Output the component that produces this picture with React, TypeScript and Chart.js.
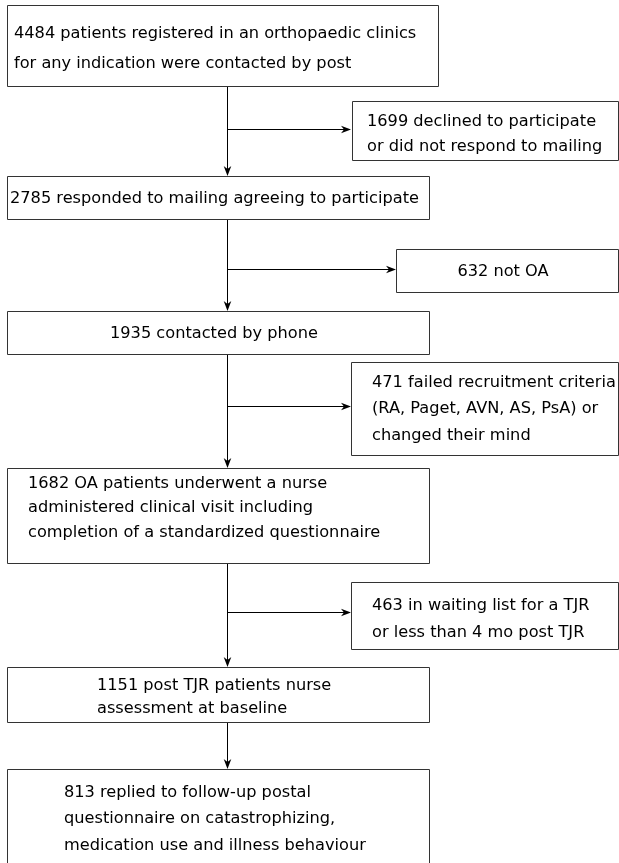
import React, { useEffect, useRef } from "react";
import { Chart, registerables } from "chart.js";

Chart.register(...registerables);

// ---- Data: counts and their descriptions ----
const counts = [4484, 1699, 2785, 632, 1935, 471, 1682, 463, 1151, 813];
const descriptions = [
  ["patients registered in an orthopaedic clinics", "for any indication were contacted by post"],
  ["declined to participate", "or did not respond to mailing"],
  ["responded to mailing agreeing to participate"],
  ["not OA"],
  ["contacted by phone"],
  ["failed recruitment criteria", "(RA, Paget, AVN, AS, PsA) or", "changed their mind"],
  ["OA patients underwent a nurse", "administered clinical visit including", "completion of a standardized questionnaire"],
  ["in waiting list for a TJR", "or less than 4 mo post TJR"],
  ["post TJR patients nurse", "assessment at baseline"],
  ["replied to follow-up postal", "questionnaire on catastrophizing,", "medication use and illness behaviour"],
];

// ---- Layout (scale units) ----
const W = 619;
const H = 863;
type BoxLayout = { x0: number; y0: number; x1: number; y1: number; tx: number; ys: number[]; center?: boolean; noBottom?: boolean };
const boxLayout: BoxLayout[] = [
  { x0: 7, y0: 5, x1: 438, y1: 86, tx: 14, ys: [34, 64] },
  { x0: 352, y0: 101, x1: 618, y1: 160, tx: 367, ys: [122, 147] },
  { x0: 7, y0: 176, x1: 429, y1: 219, tx: 10, ys: [199] },
  { x0: 396, y0: 249, x1: 618, y1: 292, tx: 503, ys: [272], center: true },
  { x0: 7, y0: 311, x1: 429, y1: 354, tx: 214, ys: [334], center: true },
  { x0: 351, y0: 362, x1: 618, y1: 455, tx: 372, ys: [383, 409, 436] },
  { x0: 7, y0: 468, x1: 429, y1: 563, tx: 28, ys: [484, 508, 533] },
  { x0: 351, y0: 582, x1: 618, y1: 649, tx: 372, ys: [606, 633] },
  { x0: 7, y0: 667, x1: 429, y1: 722, tx: 97, ys: [686, 709] },
  { x0: 7, y0: 769, x1: 429, y1: 900, tx: 64, ys: [793, 819, 846], noBottom: true },
];

const spineX = 227;
// vertical connectors: [fromY, toY]
const verticals: [number, number][] = [
  [86, 176],
  [219, 311],
  [354, 468],
  [563, 667],
  [722, 769],
];
// horizontal branches: [y, toX]
const branches: [number, number][] = [
  [129, 351],
  [269, 396],
  [406, 351],
  [612, 351],
];

const FONT = "16.2px Tahoma, 'DejaVu Sans', sans-serif";

const flowPlugin = {
  id: "flowBoxes",
  afterDatasetsDraw(chart: any) {
    const ctx = chart.ctx as CanvasRenderingContext2D;
    const xs = chart.scales.x;
    const ys = chart.scales.y;
    const px = (v: number) => Math.round(xs.getPixelForValue(v)) + 0.5;
    const py = (v: number) => Math.round(ys.getPixelForValue(v)) + 0.5;
    ctx.save();
    // boxes
    boxLayout.forEach((b, i) => {
      ctx.strokeStyle = "#333333";
      ctx.lineWidth = 1;
      ctx.beginPath();
      const x0 = px(b.x0), x1 = px(b.x1), y0 = py(b.y0), y1 = py(b.y1);
      if (b.noBottom) {
        ctx.moveTo(x0, py(H + 5));
        ctx.lineTo(x0, y0);
        ctx.lineTo(x1, y0);
        ctx.lineTo(x1, py(H + 5));
      } else {
        ctx.rect(x0, y0, x1 - x0, y1 - y0);
      }
      ctx.stroke();
      // text
      ctx.fillStyle = "#000000";
      ctx.font = FONT;
      ctx.textBaseline = "middle";
      ctx.textAlign = b.center ? "center" : "left";
      const lines = descriptions[i].slice();
      lines[0] = `${counts[i]} ${lines[0]}`;
      lines.forEach((ln, k) => {
        ctx.fillText(ln, xs.getPixelForValue(b.tx), ys.getPixelForValue(b.ys[k]));
      });
    });
    // arrowheads
    const head = (tx: number, ty: number, dir: "down" | "right") => {
      const L = 10, Hw = 3.8, notch = 3;
      ctx.fillStyle = "#000";
      ctx.beginPath();
      if (dir === "down") {
        const x = px(tx), y = ys.getPixelForValue(ty);
        ctx.moveTo(x, y);
        ctx.lineTo(x - Hw, y - L);
        ctx.lineTo(x, y - L + notch);
        ctx.lineTo(x + Hw, y - L);
      } else {
        const x = xs.getPixelForValue(tx), y = py(ty);
        ctx.moveTo(x, y);
        ctx.lineTo(x - L, y - Hw);
        ctx.lineTo(x - L + notch, y);
        ctx.lineTo(x - L, y + Hw);
      }
      ctx.closePath();
      ctx.fill();
    };
    verticals.forEach(([, y1]) => head(spineX, y1, "down"));
    branches.forEach(([y, x1]) => head(x1, y, "right"));
    ctx.restore();
  },
};

export default function App() {
  const ref = useRef<HTMLCanvasElement | null>(null);
  useEffect(() => {
    if (!ref.current) return;
    const datasets: any[] = [];
    verticals.forEach(([a, b]) => {
      datasets.push({
        data: [
          { x: spineX + 0.5, y: a + 0.5 },
          { x: spineX + 0.5, y: b - 3 },
        ],
      });
    });
    branches.forEach(([y, x1]) => {
      datasets.push({
        data: [
          { x: spineX + 0.5, y: y + 0.5 },
          { x: x1 - 3, y: y + 0.5 },
        ],
      });
    });
    datasets.forEach((d) => {
      d.showLine = true;
      d.borderColor = "#000000";
      d.borderWidth = 1;
      d.pointRadius = 0;
      d.fill = false;
    });
    const chart = new Chart(ref.current, {
      type: "scatter",
      data: { datasets },
      options: {
        animation: false,
        responsive: false,
        events: [],
        layout: { padding: 0 },
        plugins: { legend: { display: false }, tooltip: { enabled: false } },
        scales: {
          x: { type: "linear", min: 0, max: W, display: false },
          y: { type: "linear", min: 0, max: H, reverse: true, display: false },
        },
      },
      plugins: [flowPlugin],
    });
    return () => chart.destroy();
  }, []);
  return (
    <div style={{ position: "fixed", left: 0, top: 0, width: W, height: H, background: "#fff" }}>
      <canvas ref={ref} width={W} height={H} style={{ display: "block", width: W, height: H }} />
    </div>
  );
}
